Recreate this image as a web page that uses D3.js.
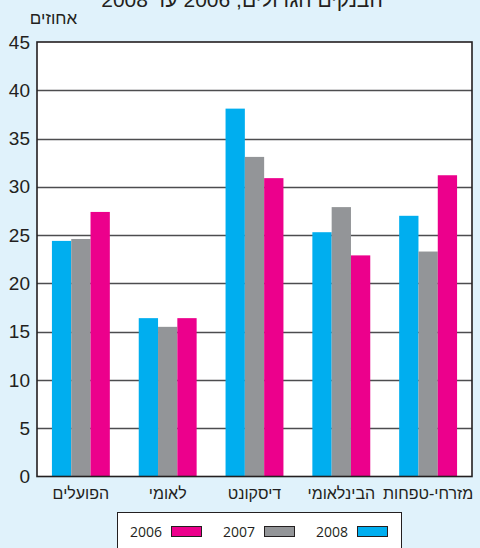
<!DOCTYPE html>
<html>
<head>
<meta charset="utf-8">
<script src="https://cdn.jsdelivr.net/npm/d3@7"></script>
<style>
  body { margin: 0; background: #e0f2fb; }
  svg { display: block; }
</style>
</head>
<body>
<div id="chart"></div>
<script>
// banks, left to right
const banks = ["הפועלים", "לאומי", "דיסקונט", "הבינלאומי", "מזרחי-טפחות"];
const years = ["2008", "2007", "2006"];

const values2008 = [24.4, 16.4, 38.1, 25.3, 27.0];
const values2007 = [24.6, 15.5, 33.1, 27.9, 23.3];
const values2006 = [27.4, 16.4, 30.9, 22.9, 31.2];

const yTicks = [0, 5, 10, 15, 20, 25, 30, 35, 40, 45];
const legendYears = ["2006", "2007", "2008"];

const colours = { "2008": "#00aeef", "2007": "#939598", "2006": "#ec008c" };

const series = { "2008": values2008, "2007": values2007, "2006": values2006 };
const data = banks.map((bank, i) => ({
    bank,
    values: years.map(y => ({ year: y, value: series[y][i] }))
}));

const width = 480;
const height = 548;
const plot = { left: 37, right: 472, top: 42, bottom: 476.5 };

const svg = d3.create("svg")
    .attr("width", width)
    .attr("height", height);

svg.append("rect")
    .attr("width", width)
    .attr("height", height)
    .attr("fill", "#e0f2fb");

// title line, mostly cut off at the top (as in the original)
svg.append("text")
    .attr("x", 242)
    .attr("y", 7)
    .attr("text-anchor", "middle")
    .attr("direction", "rtl")
    .attr("font-family", "'Liberation Sans', Arial, sans-serif")
    .attr("font-size", "21px")
    .attr("fill", "#231f20")
    .text("הבנקים הגדולים, 2006 עד 2008");

svg.append("text")
    .attr("x", 53.5)
    .attr("y", 24)
    .attr("text-anchor", "middle")
    .attr("font-family", "'Liberation Sans', Arial, sans-serif")
    .attr("font-size", "17px")
    .attr("fill", "#231f20")
    .text("אחוזים");

const x = d3.scaleBand()
    .domain(banks)
    .range([plot.left, plot.right])
    .paddingInner(0.333)
    .paddingOuter(0.172);

const xInner = d3.scaleBand()
    .domain(years)
    .range([0, x.bandwidth()]);

const y = d3.scaleLinear()
    .domain([0, 45])
    .range([plot.bottom, plot.top]);

svg.append("rect")
    .attr("x", plot.left)
    .attr("y", plot.top)
    .attr("width", plot.right - plot.left)
    .attr("height", plot.bottom - plot.top)
    .attr("fill", "#fff");

// gridlines
svg.append("g")
    .selectAll("line")
    .data(yTicks.filter(d => d > 0 && d < 45))
    .join("line")
    .attr("x1", plot.left)
    .attr("x2", plot.right)
    .attr("y1", d => Math.round(y(d)) + 0.5)
    .attr("y2", d => Math.round(y(d)) + 0.5)
    .attr("stroke", "#4d4d4f")
    .attr("stroke-width", 1.4);

svg.append("g")
    .selectAll("g")
    .data(data)
    .join("g")
    .attr("transform", d => `translate(${x(d.bank)},0)`)
    .selectAll("rect")
    .data(d => d.values)
    .join("rect")
    .attr("x", d => xInner(d.year))
    .attr("width", xInner.bandwidth())
    .attr("y", d => y(d.value))
    .attr("height", d => y(0) - y(d.value))
    .attr("fill", d => colours[d.year]);

// frame
svg.append("rect")
    .attr("x", plot.left)
    .attr("y", plot.top)
    .attr("width", plot.right - plot.left)
    .attr("height", plot.bottom - plot.top)
    .attr("fill", "none")
    .attr("stroke", "#231f20")
    .attr("stroke-width", 1.6);

const yAxis = svg.append("g")
    .attr("transform", `translate(${plot.left},0)`)
    .call(d3.axisLeft(y).tickValues(yTicks).tickSize(0).tickPadding(7));
yAxis.select(".domain").remove();
yAxis.selectAll("text")
    .attr("font-family", "'Liberation Sans', Arial, sans-serif")
    .attr("font-size", "19px")
    .attr("fill", "#231f20");

const xAxis = svg.append("g")
    .attr("transform", `translate(0,${plot.bottom})`)
    .call(d3.axisBottom(x).tickSize(0).tickPadding(11));
xAxis.select(".domain").remove();
xAxis.selectAll("text")
    .attr("direction", "rtl")
    .attr("font-family", "'Liberation Sans', Arial, sans-serif")
    .attr("font-size", "16px")
    .attr("fill", "#231f20");

// legend
const legend = svg.append("g");
legend.append("rect")
    .attr("x", 117.5)
    .attr("y", 512.5)
    .attr("width", 284)
    .attr("height", 50)
    .attr("fill", "#fff")
    .attr("stroke", "#231f20")
    .attr("stroke-width", 1);

const legendX = d3.scalePoint()
    .domain(legendYears)
    .range([130, 316]);

const item = legend.selectAll("g.item")
    .data(legendYears)
    .join("g")
    .attr("class", "item")
    .attr("transform", d => `translate(${legendX(d)},0)`);

item.append("text")
    .attr("x", 0)
    .attr("y", 536.5)
    .attr("font-family", "'Open Sans', sans-serif")
    .attr("font-size", "14px")
    .attr("fill", "#231f20")
    .text(d => d);

item.append("rect")
    .attr("x", 41.5)
    .attr("y", 526.5)
    .attr("width", 30)
    .attr("height", 10)
    .attr("fill", d => colours[d])
    .attr("stroke", "#231f20")
    .attr("stroke-width", 1);

d3.select("#chart").node().append(svg.node());
</script>
</body>
</html>
